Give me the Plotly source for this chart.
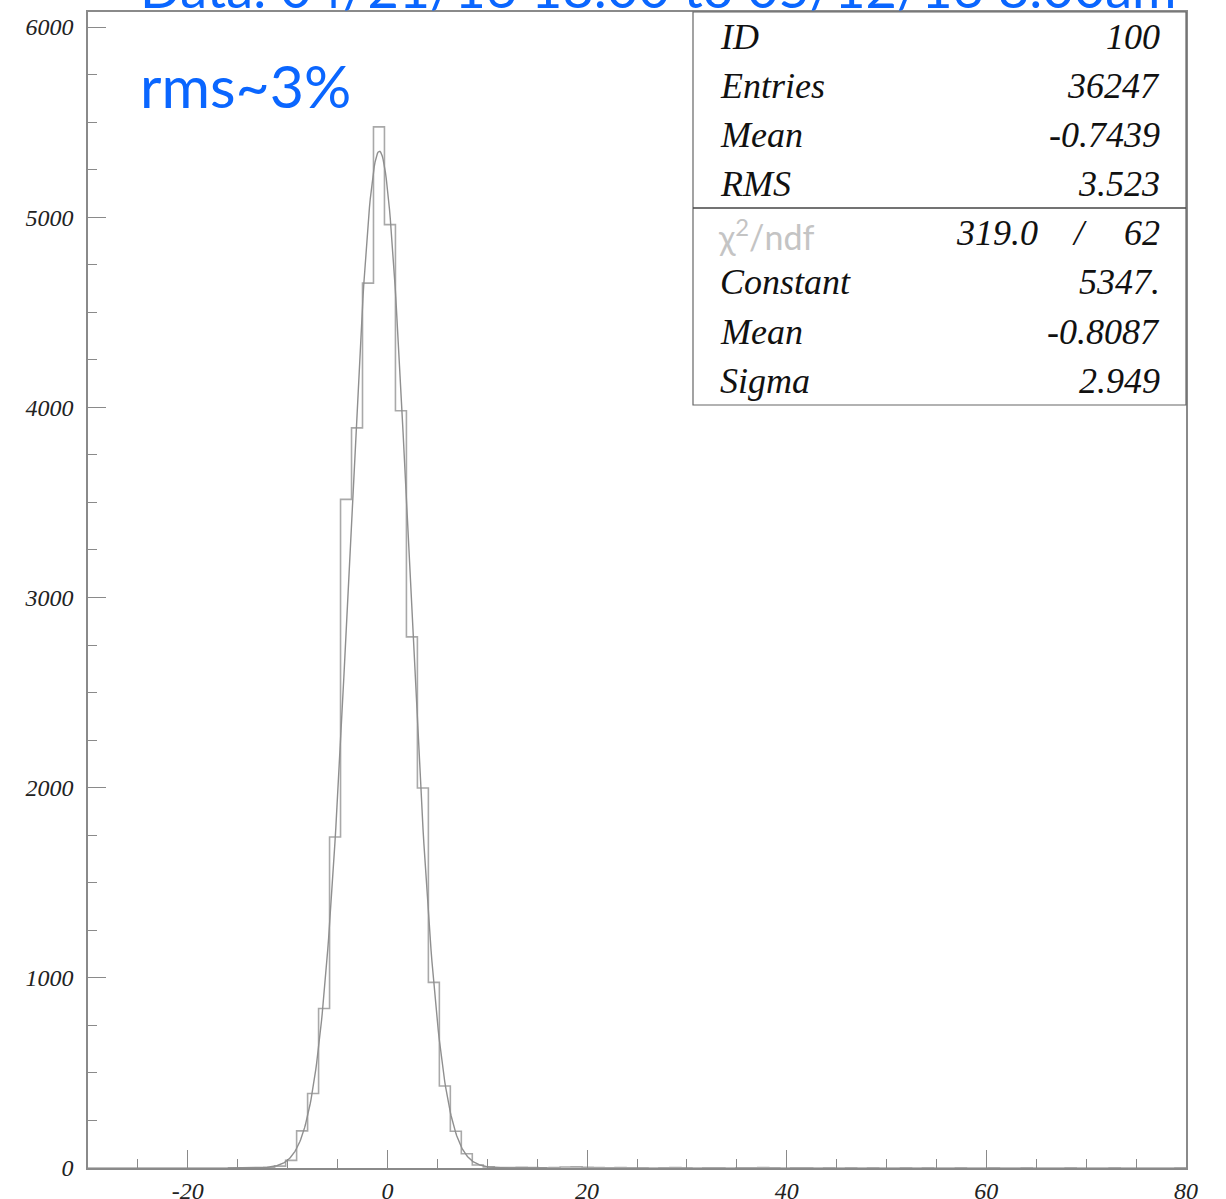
import numpy as np
import plotly.graph_objects as go

# ---- data ----
x_min = -30.0
x_max = 80.0
bin_width = 1.1  # 100 bins from -30 to 80

# counts for each of the 100 bins (bin k covers [-30+1.1k, -30+1.1(k+1)])
counts = [
    0, 0, 0, 0, 0, 0, 0, 0, 0, 0,          # -30 .. -19
    0, 0, 0, 0, 0, 1, 3, 10, 40, 195,      # -19 .. -8
    392, 839, 1741, 3516, 3892, 4653, 5475, 4961, 3982, 2793,  # -8 .. 3
    1998, 976, 431, 193, 75, 16, 6, 3, 2, 4,                 # 3 .. 14
    2, 1, 3, 5, 6, 4, 2, 1, 2, 1,          # 14 .. 25
    1, 0, 1, 2, 1, 0, 1, 1, 0, 1,          # 25 .. 36
    1, 2, 1, 0, 1, 1, 0, 1, 0, 1,          # 36 .. 47
    0, 1, 0, 0, 1, 0, 1, 0, 0, 1,          # 47 .. 58
    0, 0, 1, 0, 0, 1, 0, 0, 0, 1,          # 58 .. 69
    0, 0, 0, 1, 0, 0, 0, 0, 0, 1,          # 69 .. 80
]

# fit parameters shown in the stats box
fit_constant = 5347.0
fit_mean = -0.8087
fit_sigma = 2.949

x_tickvals = [-20, 0, 20, 40, 60, 80]
x_ticktext = ["-20", "0", "20", "40", "60", "80"]
y_tickvals = [0, 1000, 2000, 3000, 4000, 5000, 6000]
y_ticktext = ["0", "1000", "2000", "3000", "4000", "5000", "6000"]

stats_labels = ["ID", "Entries", "Mean", "RMS"]
stats_values = ["100", "36247", "-0.7439", "3.523"]
fit_labels = ["Constant", "Mean", "Sigma"]
fit_values = ["5347.", "-0.8087", "2.949"]
chi2_value = "319.0"
ndf_value = "62"

title_text = "Data: 04/21/16 18:00 to 05/12/16 8:00am"
note_text = "rms~3%"

# ---- build figure ----
edges = [x_min + bin_width * k for k in range(len(counts) + 1)]
step_x = edges
step_y = counts + [counts[-1]]

fx = np.linspace(-16, 16, 400)
fy = fit_constant * np.exp(-0.5 * ((fx - fit_mean) / fit_sigma) ** 2)

fig = go.Figure()
fig.add_trace(go.Scatter(x=step_x, y=step_y, mode="lines", line_shape="hv",
                         line=dict(color="#a9a9a9", width=1.6), hoverinfo="skip"))
fig.add_trace(go.Scatter(x=fx, y=fy, mode="lines",
                         line=dict(color="#8f8f8f", width=1.4), hoverinfo="skip"))

W, H = 1226, 1199
L, R, T, B = 88, 1186, 12, 1168
axis_col = "#8a8a8a"
tickfont = dict(family="Liberation Serif", size=24, color="#222222", style="italic")

fig.update_layout(
    width=W, height=H,
    margin=dict(l=L, r=W - R, t=T, b=H - B),
    paper_bgcolor="white", plot_bgcolor="white",
    showlegend=False,
)
fig.update_xaxes(range=[x_min, x_max], tickmode="array", tickvals=x_tickvals, ticktext=x_ticktext,
                 ticks="inside", ticklen=18, automargin=False,
                 tickcolor=axis_col, tickwidth=1.2, showgrid=False, zeroline=False,
                 showline=True, linecolor=axis_col, linewidth=1.5, mirror=True,
                 tickfont=tickfont, ticklabelstandoff=0,
                 minor=dict(dtick=5, tick0=0, ticks="inside", ticklen=9,
                            tickcolor=axis_col, tickwidth=1.2, showgrid=False))
fig.update_yaxes(range=[0, 6079], tickmode="array", tickvals=y_tickvals, ticktext=y_ticktext,
                 ticks="inside", ticklen=18, automargin=False,
                 tickcolor=axis_col, tickwidth=1.2, showgrid=False, zeroline=False,
                 showline=True, linecolor=axis_col, linewidth=1.5, mirror=True,
                 tickfont=tickfont, ticklabelstandoff=8,
                 minor=dict(dtick=250, tick0=0, ticks="inside", ticklen=9,
                            tickcolor=axis_col, tickwidth=1.2, showgrid=False))


def px2paper_x(px):
    return (px - L) / (R - L)


def py2paper_y(py):
    return (B - py) / (B - T)


# stats box
box_l, box_r, box_t, box_b, box_sep = 693, 1186, 12, 405, 208
fig.add_shape(type="rect", xref="paper", yref="paper",
              x0=px2paper_x(box_l), x1=px2paper_x(box_r),
              y0=py2paper_y(box_b), y1=py2paper_y(box_t),
              line=dict(color="#666666", width=1.2), fillcolor="white", layer="above")
fig.add_shape(type="line", xref="paper", yref="paper",
              x0=px2paper_x(box_l), x1=px2paper_x(box_r),
              y0=py2paper_y(box_sep), y1=py2paper_y(box_sep),
              line=dict(color="#444444", width=1.4), layer="above")

rowfont = dict(family="Liberation Serif", size=36, color="#111111", style="italic")
row_y = [37, 86, 135, 184]
for lab, val, yy in zip(stats_labels, stats_values, row_y):
    fig.add_annotation(xref="paper", yref="paper", x=px2paper_x(718), y=py2paper_y(yy),
                       text=lab, showarrow=False, xanchor="left", yanchor="middle", font=rowfont)
    fig.add_annotation(xref="paper", yref="paper", x=px2paper_x(1162), y=py2paper_y(yy),
                       text=val, showarrow=False, xanchor="right", yanchor="middle", font=rowfont)

# chi2 row
fig.add_annotation(xref="paper", yref="paper", x=px2paper_x(716), y=py2paper_y(235),
                   text="χ<sup>2</sup>/ndf", showarrow=False, xanchor="left", yanchor="middle",
                   font=dict(family="Lato", size=34, color="#c4c4c4"))
fig.add_annotation(xref="paper", yref="paper", x=px2paper_x(1040), y=py2paper_y(233),
                   text=chi2_value, showarrow=False, xanchor="right", yanchor="middle", font=rowfont)
fig.add_annotation(xref="paper", yref="paper", x=px2paper_x(1079), y=py2paper_y(233),
                   text="/", showarrow=False, xanchor="center", yanchor="middle", font=rowfont)
fig.add_annotation(xref="paper", yref="paper", x=px2paper_x(1162), y=py2paper_y(233),
                   text=ndf_value, showarrow=False, xanchor="right", yanchor="middle", font=rowfont)

frow_y = [282, 332, 381]
for lab, val, yy in zip(fit_labels, fit_values, frow_y):
    fig.add_annotation(xref="paper", yref="paper", x=px2paper_x(718), y=py2paper_y(yy),
                       text=lab, showarrow=False, xanchor="left", yanchor="middle", font=rowfont)
    fig.add_annotation(xref="paper", yref="paper", x=px2paper_x(1162), y=py2paper_y(yy),
                       text=val, showarrow=False, xanchor="right", yanchor="middle", font=rowfont)

blue = "#0a66ff"
fig.add_annotation(xref="paper", yref="paper", x=px2paper_x(138), y=py2paper_y(86),
                   text=note_text, showarrow=False, xanchor="left", yanchor="middle",
                   font=dict(family="Lato", size=59, color=blue))
fig.add_annotation(xref="paper", yref="paper", x=px2paper_x(138), y=py2paper_y(-12),
                   text=title_text, showarrow=False, xanchor="left", yanchor="middle",
                   font=dict(family="Lato", size=54, color=blue))

fig.write_html("out.html")
